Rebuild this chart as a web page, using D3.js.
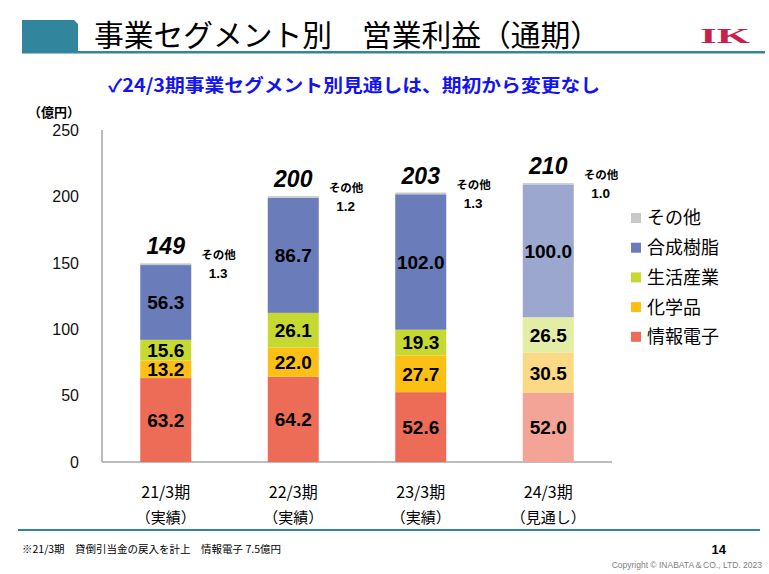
<!DOCTYPE html>
<html>
<head>
<meta charset="utf-8">
<script src="https://cdn.jsdelivr.net/npm/d3@7"></script>
<style>
  body { margin: 0; background: #fff; }
  svg { display: block; }
</style>
</head>
<body>
<div id="chart"></div>
<script>
// data
var categories = ["21/3期", "22/3期", "23/3期", "24/3期"];
var periodNotes = ["（実績）", "（実績）", "（実績）", "（見通し）"];
var segments = ["情報電子", "化学品", "生活産業", "合成樹脂", "その他"];
var johoDenshi = [63.2, 64.2, 52.6, 52.0];
var kagakuhin = [13.2, 22.0, 27.7, 30.5];
var seikatsuSangyo = [15.6, 26.1, 19.3, 26.5];
var goseiJushi = [56.3, 86.7, 102.0, 100.0];
var sonota = [1.3, 1.2, 1.3, 1.0];
var totals = [149, 200, 203, 210];
var yTicks = [0, 50, 100, 150, 200, 250];
var forecastIndex = 3;

var svgWidth = 769;
var svgHeight = 574;

var jp = "'Noto Sans CJK JP', 'Noto Sans', sans-serif";
var num = "'Liberation Sans', Arial, sans-serif";

var colors = {
  "情報電子": "#ED6C58",
  "化学品": "#FBBF16",
  "生活産業": "#C5D930",
  "合成樹脂": "#6A7CBA",
  "その他": "#C8C8C8"
};
var lightColors = {
  "情報電子": "#F4A496",
  "化学品": "#FCD985",
  "生活産業": "#E3EDA6",
  "合成樹脂": "#9BA7CF",
  "その他": "#C8C8C8"
};

var svg = d3.select("#chart")
  .append("svg")
  .attr("width", svgWidth)
  .attr("height", svgHeight);

// ---- header ----
var teal = "#31859C";
svg.append("path")
  .attr("d", "M22,20 L74,20 L78,24 L78,53 L22,53 Z")
  .attr("fill", teal);
svg.append("rect")
  .attr("x", 22).attr("y", 51)
  .attr("width", 743).attr("height", 2.5)
  .attr("fill", teal);

svg.append("text")
  .attr("x", 94).attr("y", 46)
  .attr("font-family", jp)
  .attr("font-size", 30)
  .attr("textLength", 506)
  .attr("lengthAdjust", "spacingAndGlyphs")
  .attr("fill", "#000")
  .text("事業セグメント別　営業利益（通期）");

svg.append("text")
  .attr("x", 700).attr("y", 43)
  .attr("font-family", "'Liberation Serif', 'DejaVu Serif', serif")
  .attr("font-weight", "bold")
  .attr("font-size", 22)
  .attr("textLength", 50)
  .attr("lengthAdjust", "spacingAndGlyphs")
  .attr("fill", "#C8204A")
  .text("IK");

svg.append("text")
  .attr("x", 108).attr("y", 92)
  .attr("font-family", jp)
  .attr("font-weight", "bold")
  .attr("font-size", 18)
  .attr("textLength", 492)
  .attr("lengthAdjust", "spacingAndGlyphs")
  .attr("fill", "#1414F0")
  .text("✓24/3期事業セグメント別見通しは、期初から変更なし");

// unit label
svg.append("text")
  .attr("x", 28).attr("y", 117)
  .attr("font-family", jp)
  .attr("font-weight", "bold")
  .attr("font-size", 13)
  .text("（億円）");

// ---- chart ----
var x0 = 102, x1 = 612;
var yScale = d3.scaleLinear().domain([0, 250]).range([462, 130]);
var xScale = d3.scaleBand().domain(categories).range([x0, x1]).paddingInner(0.6).paddingOuter(0.3);

var rows = categories.map(function(c, i) {
  return {
    cat: c,
    "情報電子": johoDenshi[i],
    "化学品": kagakuhin[i],
    "生活産業": seikatsuSangyo[i],
    "合成樹脂": goseiJushi[i],
    "その他": sonota[i]
  };
});
var stacked = d3.stack().keys(segments)(rows);

// y axis ticks (labels only)
svg.append("g")
  .selectAll("text")
  .data(yTicks)
  .enter()
  .append("text")
  .attr("x", 79)
  .attr("y", d => yScale(d))
  .attr("dy", "0.36em")
  .attr("text-anchor", "end")
  .attr("font-family", num)
  .attr("font-size", 16)
  .attr("fill", "#111")
  .text(d => d);

// axis lines
svg.append("line")
  .attr("x1", x0).attr("x2", x0)
  .attr("y1", yScale(250)).attr("y2", yScale(0))
  .attr("stroke", "#A6A6A6").attr("stroke-width", 1.5);
svg.append("line")
  .attr("x1", x0).attr("x2", x1)
  .attr("y1", yScale(0)).attr("y2", yScale(0))
  .attr("stroke", "#A6A6A6").attr("stroke-width", 1.5);

// bars
var layers = svg.append("g")
  .selectAll("g")
  .data(stacked)
  .enter()
  .append("g");

layers.selectAll("rect")
  .data(d => d.map(function(p, i) { return { key: d.key, p: p, i: i }; }))
  .enter()
  .append("rect")
  .attr("x", d => xScale(categories[d.i]))
  .attr("width", xScale.bandwidth())
  .attr("y", d => yScale(d.p[1]))
  .attr("height", d => yScale(d.p[0]) - yScale(d.p[1]))
  .attr("fill", d => d.i === forecastIndex ? lightColors[d.key] : colors[d.key]);

// segment value labels (inside)
layers.filter(d => d.key !== "その他")
  .selectAll("text")
  .data(d => d.map(function(p, i) { return { key: d.key, p: p, i: i }; }))
  .enter()
  .append("text")
  .attr("x", d => xScale(categories[d.i]) + xScale.bandwidth() / 2)
  .attr("y", d => yScale((d.p[0] + d.p[1]) / 2))
  .attr("dy", "0.36em")
  .attr("text-anchor", "middle")
  .attr("font-family", num)
  .attr("font-weight", "bold")
  .attr("font-size", 19)
  .attr("fill", "#000")
  .text(d => (d.p[1] - d.p[0]).toFixed(1));

// totals and その他 callouts
var topLayer = stacked[stacked.length - 1];
var callouts = svg.append("g")
  .selectAll("g")
  .data(topLayer.map(function(p, i) { return { top: p[1], i: i }; }))
  .enter()
  .append("g");

callouts.append("text")
  .attr("x", d => xScale(categories[d.i]) + xScale.bandwidth() / 2)
  .attr("y", d => yScale(d.top) - 9)
  .attr("text-anchor", "middle")
  .attr("font-family", num)
  .attr("font-weight", "bold")
  .attr("font-style", "italic")
  .attr("font-size", 23)
  .attr("fill", "#000")
  .text(d => totals[d.i]);

callouts.append("text")
  .attr("x", d => xScale(categories[d.i]) + xScale.bandwidth() + 10)
  .attr("y", d => yScale(d.top) - 4)
  .attr("font-family", jp)
  .attr("font-weight", "bold")
  .attr("font-size", 11.5)
  .attr("fill", "#000")
  .text("その他");

callouts.append("text")
  .attr("x", d => xScale(categories[d.i]) + xScale.bandwidth() + 27)
  .attr("y", d => yScale(d.top) + 15)
  .attr("text-anchor", "middle")
  .attr("font-family", num)
  .attr("font-weight", "bold")
  .attr("font-size", 13.5)
  .attr("fill", "#000")
  .text(d => sonota[d.i].toFixed(1));

// category labels
var catLabels = svg.append("g")
  .selectAll("g")
  .data(categories)
  .enter()
  .append("g");
catLabels.append("text")
  .attr("x", d => xScale(d) + xScale.bandwidth() / 2)
  .attr("y", 498)
  .attr("text-anchor", "middle")
  .attr("font-family", jp)
  .attr("font-size", 16)
  .attr("fill", "#000")
  .text(d => d);
catLabels.append("text")
  .attr("x", d => xScale(d) + xScale.bandwidth() / 2)
  .attr("y", 523)
  .attr("text-anchor", "middle")
  .attr("font-family", jp)
  .attr("font-size", 15)
  .attr("fill", "#000")
  .text((d, i) => periodNotes[i]);

// legend (top item is その他)
var legendItems = segments.slice().reverse();
var legend = svg.append("g")
  .selectAll("g")
  .data(legendItems)
  .enter()
  .append("g")
  .attr("transform", (d, i) => `translate(631, ${218 + i * 29.7})`);
legend.append("rect")
  .attr("x", 0).attr("y", -5)
  .attr("width", 10).attr("height", 10)
  .attr("fill", d => colors[d]);
legend.append("text")
  .attr("x", 16)
  .attr("y", 0)
  .attr("dy", "0.36em")
  .attr("font-family", jp)
  .attr("font-size", 18)
  .attr("fill", "#000")
  .text(d => d);

// ---- footer ----
svg.append("rect")
  .attr("x", 18).attr("y", 529)
  .attr("width", 742).attr("height", 2)
  .attr("fill", teal);

svg.append("text")
  .attr("x", 22).attr("y", 553)
  .attr("font-family", jp)
  .attr("font-size", 10.5)
  .attr("fill", "#000")
  .text("※21/3期　貸倒引当金の戻入を計上　情報電子 7.5億円");

svg.append("text")
  .attr("x", 726).attr("y", 554)
  .attr("text-anchor", "end")
  .attr("font-family", num)
  .attr("font-weight", "bold")
  .attr("font-size", 13)
  .attr("fill", "#000")
  .text("14");

svg.append("text")
  .attr("x", 762).attr("y", 568)
  .attr("text-anchor", "end")
  .attr("font-family", num)
  .attr("font-size", 8.5)
  .attr("fill", "#808080")
  .text("Copyright © INABATA＆CO., LTD.  2023");
</script>
</body>
</html>
